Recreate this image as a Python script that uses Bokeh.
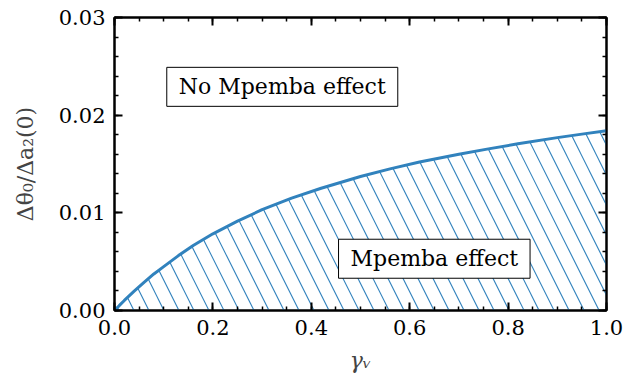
import numpy as np
from bokeh.plotting import figure
from bokeh.models import (Range1d, FixedTicker, LinearAxis, Label)
from bokeh.embed import file_html
from bokeh.resources import INLINE

# ---- data ----
gamma = [0.0, 0.01, 0.02, 0.04, 0.06, 0.08, 0.10, 0.13, 0.16, 0.20, 0.25, 0.30,
         0.36, 0.42, 0.50, 0.56, 0.62, 0.70, 0.76, 0.82, 0.90, 0.95, 1.0]
ratio = [0.0, 0.00052, 0.00103, 0.00199, 0.00288, 0.00374, 0.00449, 0.00562,
         0.00665, 0.00785, 0.00915, 0.01032, 0.01150, 0.01252, 0.01372, 0.01450,
         0.01520, 0.01600, 0.01655, 0.01707, 0.01770, 0.01806, 0.01840]

x_ticks = [0.0, 0.2, 0.4, 0.6, 0.8, 1.0]
x_tick_labels = ["0.0", "0.2", "0.4", "0.6", "0.8", "1.0"]
y_ticks = [0.0, 0.01, 0.02, 0.03]
y_tick_labels = ["0.00", "0.01", "0.02", "0.03"]
x_minor = [i * 0.05 for i in range(21)]
y_minor = [i * 0.002 for i in range(16)]

label_upper = "No Mpemba effect"
label_lower = "Mpemba effect"

BLUE = "#3182bd"
FONT = "DejaVu Serif"

W, H = 634, 382
BL, BR, BT, BB = 114, 28, 17, 72

p = figure(width=W, height=H, output_backend="svg", toolbar_location=None,
           x_range=Range1d(0, 1), y_range=Range1d(0, 0.03),
           min_border_left=BL, min_border_right=BR, min_border_top=BT,
           min_border_bottom=BB, background_fill_color="white",
           border_fill_color="white")
p.grid.visible = False
p.outline_line_color = "black"
p.outline_line_width = 2

# ---- hatch lines (steep "\" pattern) computed from the curve ----
frame_w = W - BL - BR
frame_h = H - BT - BB
k = 2.0 * (0.03 / frame_h) / (1.0 / frame_w)   # data slope of hatch lines
spacing = 0.0305
xs = np.linspace(0, 1, 4001)
fs = np.interp(xs, gamma, ratio)
x0s, y0s, x1s, y1s = [], [], [], []
xi = 0.009
while not (xi > 1 and k * (xi - 1) >= ratio[-1]):
    g = fs - k * (xi - xs)
    xt = float(np.interp(0.0, g, xs))
    yt = float(np.interp(xt, gamma, ratio))
    if xi <= 1:
        xb, yb = xi, 0.0
    else:
        xb, yb = 1.0, k * (xi - 1)
    x0s.append(xb); y0s.append(yb); x1s.append(xt); y1s.append(yt)
    xi += spacing
p.segment(x0=x0s, y0=y0s, x1=x1s, y1=y1s, line_color=BLUE, line_width=1.1)

p.line(gamma, ratio, line_color=BLUE, line_width=3)

# ---- axes ----
def style_axis(ax, ticks, minor, labels, show_labels):
    ax.ticker = FixedTicker(ticks=ticks, minor_ticks=minor)
    ax.axis_line_color = "black"
    ax.axis_line_width = 2
    ax.major_tick_in = 8
    ax.major_tick_out = 0
    ax.minor_tick_in = 4
    ax.minor_tick_out = 0
    ax.major_tick_line_width = 2
    ax.minor_tick_line_width = 1.5
    ax.major_tick_line_color = "black"
    ax.minor_tick_line_color = "black"
    ax.major_label_text_font = FONT
    ax.major_label_text_font_size = "21px"
    ax.major_label_text_color = "black"
    if show_labels:
        ax.major_label_overrides = {t: l for t, l in zip(ticks, labels)}
        ax.major_label_standoff = 9
    else:
        ax.major_label_overrides = {t: "" for t in ticks}
        ax.major_label_standoff = 0

bottom = p.below[0]
left = p.left[0]
style_axis(bottom, x_ticks, x_minor, x_tick_labels, True)
style_axis(left, y_ticks, y_minor, y_tick_labels, True)

right = LinearAxis()
style_axis(right, y_ticks, y_minor, y_tick_labels, False)
p.add_layout(right, "right")
top = LinearAxis()
style_axis(top, x_ticks, x_minor, x_tick_labels, False)
p.add_layout(top, "above")

bottom.axis_label = "γᵥ"
bottom.axis_label_text_font = FONT
bottom.axis_label_text_font_style = "italic"
bottom.axis_label_text_font_size = "22px"
bottom.axis_label_standoff = 10
left.axis_label = "Δθ₀/Δa₂(0)"
left.axis_label_text_font = FONT
left.axis_label_text_font_style = "normal"
left.axis_label_text_font_size = "22px"
left.axis_label_standoff = 18

# ---- annotation boxes ----
for txt, lx, ly in [(label_upper, 0.341, 0.0229), (label_lower, 0.650, 0.0053)]:
    p.add_layout(Label(x=lx, y=ly, text=txt, text_align="center",
                       text_baseline="middle", text_font=FONT,
                       text_font_size="22px", text_color="black",
                       background_fill_color="white",
                       border_line_color="black", border_line_width=1,
                       padding=dict(left=12, right=12, top=7, bottom=7)))

open("out.html", "w").write(file_html(p, INLINE))
